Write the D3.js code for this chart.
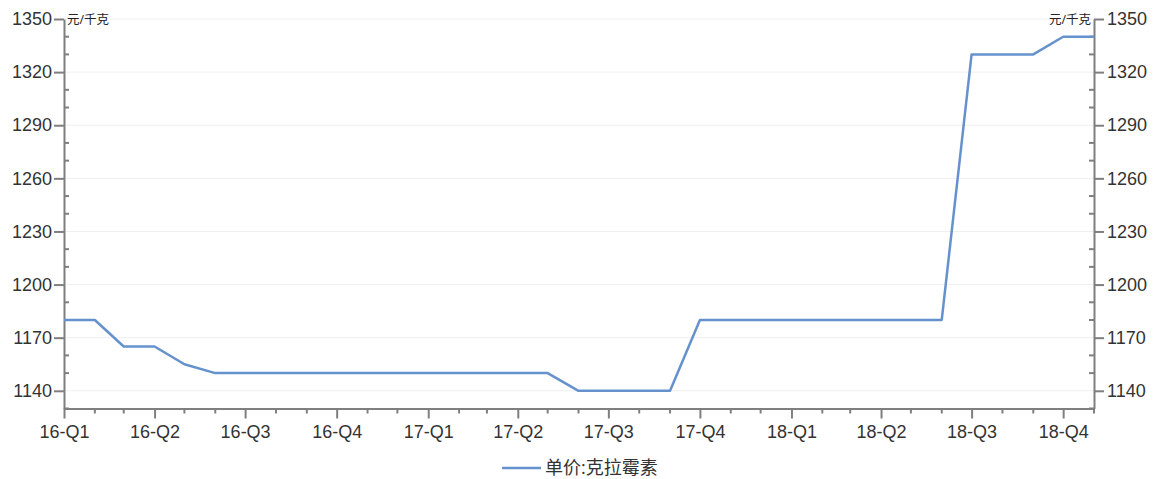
<!DOCTYPE html>
<html>
<head>
<meta charset="utf-8">
<script src="https://cdn.jsdelivr.net/npm/d3@7"></script>
<style>
  html, body { margin: 0; padding: 0; background: #fff; }
  svg { display: block; font-family: "Open Sans", "Noto Sans CJK SC", sans-serif; }
</style>
</head>
<body>
<svg id="chart" width="1154" height="479"></svg>
<script>
// Monthly unit price of clarithromycin, Jan 2016 – Nov 2018 (元/千克)
const months = [
  "2016-01","2016-02","2016-03","2016-04","2016-05","2016-06",
  "2016-07","2016-08","2016-09","2016-10","2016-11","2016-12",
  "2017-01","2017-02","2017-03","2017-04","2017-05","2017-06",
  "2017-07","2017-08","2017-09","2017-10","2017-11","2017-12",
  "2018-01","2018-02","2018-03","2018-04","2018-05","2018-06",
  "2018-07","2018-08","2018-09","2018-10","2018-11"
];
const prices = [
  1180, 1180, 1165, 1165, 1155, 1150,
  1150, 1150, 1150, 1150, 1150, 1150,
  1150, 1150, 1150, 1150, 1150, 1140,
  1140, 1140, 1140, 1180, 1180, 1180,
  1180, 1180, 1180, 1180, 1180, 1180,
  1330, 1330, 1330, 1340, 1340
];
const quarterTicks = ["2016-01","2016-04","2016-07","2016-10","2017-01","2017-04","2017-07","2017-10","2018-01","2018-04","2018-07","2018-10"];
const quarterLabels = ["16-Q1","16-Q2","16-Q3","16-Q4","17-Q1","17-Q2","17-Q3","17-Q4","18-Q1","18-Q2","18-Q3","18-Q4"];
const yMajorTicks = [1140, 1170, 1200, 1230, 1260, 1290, 1320, 1350];
const yMinorTicks = [1130, 1150, 1160, 1180, 1190, 1210, 1220, 1240, 1250, 1270, 1280, 1300, 1310, 1330, 1340];
const yDomain = [1130, 1350];
const unitLabel = "元/千克";
const seriesName = "单价:克拉霉素";

const parse = d3.timeParse("%Y-%m");
const data = months.map((m, i) => ({ date: parse(m), value: prices[i] }));

const svg = d3.select("#chart");
const plotLeft = 64, plotRight = 1094, plotTop = 19, plotBottom = 408.5;
const axisColor = "#7f7f7f";
const textColor = "#333";
const lineColor = "#6592cd";
const yFormat = d3.format("d");

const x = d3.scaleTime()
  .domain(d3.extent(data, d => d.date))
  .range([plotLeft, plotRight]);
const y = d3.scaleLinear().domain(yDomain).range([plotBottom, plotTop]);

// horizontal gridlines at major ticks
svg.append("g")
  .selectAll("line")
  .data(yMajorTicks)
  .join("line")
  .attr("x1", plotLeft).attr("x2", plotRight)
  .attr("y1", d => y(d)).attr("y2", d => y(d))
  .attr("stroke", "#efefef").attr("stroke-width", 1);

function styleAxis(g) {
  g.select(".domain").attr("stroke", axisColor).attr("stroke-width", 2);
  g.selectAll(".tick line").attr("stroke", axisColor).attr("stroke-width", 2);
  g.selectAll(".tick text")
    .attr("fill", textColor)
    .style("font-size", "18px");
}

// left value axis
const leftAxis = svg.append("g")
  .attr("transform", `translate(${plotLeft},0)`)
  .call(d3.axisLeft(y).tickValues(yMajorTicks).tickFormat(yFormat)
    .tickSize(10).tickSizeOuter(0).tickPadding(2))
  .call(styleAxis);

// right value axis
const rightAxis = svg.append("g")
  .attr("transform", `translate(${plotRight},0)`)
  .call(d3.axisRight(y).tickValues(yMajorTicks).tickFormat(yFormat)
    .tickSize(10).tickSizeOuter(0).tickPadding(3))
  .call(styleAxis);

// minor ticks pointing into the plot
leftAxis.append("g").selectAll("line").data(yMinorTicks).join("line")
  .attr("x1", 0).attr("x2", 5)
  .attr("y1", d => y(d)).attr("y2", d => y(d))
  .attr("stroke", axisColor).attr("stroke-width", 2);
rightAxis.append("g").selectAll("line").data(yMinorTicks).join("line")
  .attr("x1", 0).attr("x2", -5)
  .attr("y1", d => y(d)).attr("y2", d => y(d))
  .attr("stroke", axisColor).attr("stroke-width", 2);

// bottom time axis: quarter labels, monthly minor ticks
const qDates = quarterTicks.map(parse);
const bottomAxis = svg.append("g")
  .attr("transform", `translate(0,${plotBottom})`)
  .call(d3.axisBottom(x).tickValues(qDates).tickSize(10).tickSizeOuter(0).tickPadding(7)
    .tickFormat((d, i) => quarterLabels[i]))
  .call(styleAxis);
bottomAxis.selectAll(".tick text").attr("dy", "0.71em");

const qSet = new Set(quarterTicks);
const minorMonths = months.filter(m => !qSet.has(m)).map(parse);
bottomAxis.append("g").selectAll("line").data(minorMonths).join("line")
  .attr("x1", d => x(d)).attr("x2", d => x(d))
  .attr("y1", 0).attr("y2", 5)
  .attr("stroke", axisColor).attr("stroke-width", 2);

// unit labels
svg.append("text")
  .attr("x", plotLeft + 3).attr("y", plotTop + 1).attr("dy", "0.35em")
  .attr("fill", "#222").style("font-size", "12.5px")
  .text(unitLabel);
svg.append("text")
  .attr("x", plotRight - 3).attr("y", plotTop + 1).attr("dy", "0.35em")
  .attr("text-anchor", "end")
  .attr("fill", "#222").style("font-size", "12.5px")
  .text(unitLabel);

// price line
const line = d3.line().x(d => x(d.date)).y(d => y(d.value));
svg.append("path")
  .datum(data)
  .attr("d", line)
  .attr("fill", "none")
  .attr("stroke", lineColor)
  .attr("stroke-width", 2.5)
  .attr("stroke-linejoin", "round");

// legend
const legend = svg.append("g").attr("transform", "translate(502,468)");
legend.append("line")
  .attr("x1", 0).attr("x2", 39).attr("y1", 0).attr("y2", 0)
  .attr("stroke", lineColor).attr("stroke-width", 2.5);
legend.append("text")
  .attr("x", 43).attr("y", 0).attr("dy", "0.35em")
  .attr("fill", textColor).style("font-size", "18px")
  .text(seriesName);
</script>
</body>
</html>
